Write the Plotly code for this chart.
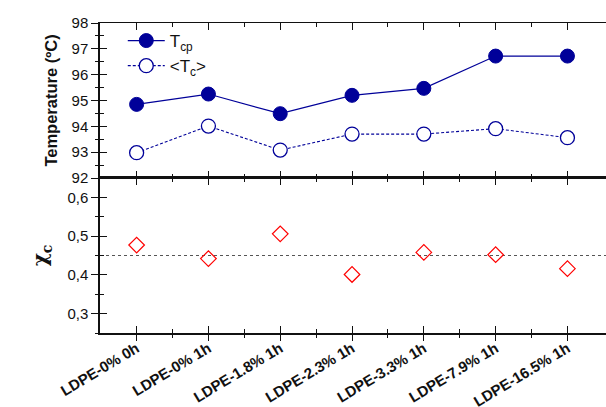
import plotly.graph_objects as go

categories = ["LDPE-0% 0h", "LDPE-0% 1h", "LDPE-1.8% 1h", "LDPE-2.3% 1h",
              "LDPE-3.3% 1h", "LDPE-7.9% 1h", "LDPE-16.5% 1h"]
t_cp = [94.85, 95.25, 94.49, 95.2, 95.47, 96.72, 96.72]
t_c = [92.98, 94.01, 93.08, 93.7, 93.7, 93.91, 93.56]
chi_c = [0.477, 0.442, 0.506, 0.401, 0.458, 0.452, 0.416]
chi_mean = 0.45

temp_ticks = [92, 93, 94, 95, 96, 97, 98]
temp_minor = [92.5, 93.5, 94.5, 95.5, 96.5, 97.5]
chi_ticks = [0.3, 0.4, 0.5, 0.6]
chi_minor = [0.25, 0.35, 0.45, 0.55]

xs = list(range(len(categories)))
x_minor = [i + 0.5 for i in xs[:-1]]
xr = [-0.51, 6.537]

NAVY = "#000099"
FONT = "Liberation Sans, Arial, sans-serif"
BLK = "#111111"

fig = go.Figure()
fig.add_trace(go.Scatter(
    x=xs, y=t_cp, xaxis="x", yaxis="y", mode="lines+markers",
    name="T<sub>cp</sub>",
    line=dict(color=NAVY, width=1.2),
    marker=dict(symbol="circle", size=14, color=NAVY, line=dict(color=NAVY, width=1))))
fig.add_trace(go.Scatter(
    x=xs, y=t_c, xaxis="x", yaxis="y", mode="lines+markers",
    name="&lt;T<sub>c</sub>&gt;",
    line=dict(color=NAVY, width=1.1, dash="3px,2px"),
    marker=dict(symbol="circle", size=14, color="white", line=dict(color=NAVY, width=1.3))))
fig.add_trace(go.Scatter(
    x=xs, y=chi_c, xaxis="x2", yaxis="y2", mode="markers", showlegend=False,
    marker=dict(symbol="diamond-open", size=12, color="#FF0000", line=dict(color="#FF0000", width=1.2))))

# invisible copies so that the overlay tick axes get drawn
ghost = dict(mode="markers", showlegend=False, hoverinfo="skip", marker=dict(opacity=0, size=1))
fig.add_trace(go.Scatter(x=xs, y=chi_c, xaxis="x3", yaxis="y2", **ghost))
fig.add_trace(go.Scatter(x=xs, y=t_cp, xaxis="x", yaxis="y3", **ghost))
fig.add_trace(go.Scatter(x=xs, y=chi_c, xaxis="x2", yaxis="y4", **ghost))

fig.add_shape(type="line", xref="x2 domain", yref="y2", x0=0, x1=1, y0=chi_mean, y1=chi_mean,
              line=dict(color="#555555", width=1.2, dash="dot"), layer="below")

common_tick = dict(tickcolor=BLK, tickwidth=1.3, linecolor=BLK, showgrid=False, zeroline=False,
                   automargin=False)

fig.update_layout(
    width=606, height=407, autosize=False,
    margin=dict(l=100, r=0, t=23, b=74),
    plot_bgcolor="white", paper_bgcolor="white",
    separators=", ",
    font=dict(family=FONT, size=15, color=BLK),
    xaxis=dict(domain=[0, 1], anchor="y", range=xr, tickmode="array", tickvals=xs,
               showticklabels=False, ticks="inside", ticklen=7, mirror="ticks",
               showline=True, linewidth=1.2,
               minor=dict(tickmode="array", tickvals=x_minor, ticks="inside", ticklen=4,
                          tickcolor=BLK, tickwidth=1.2),
               **common_tick),
    xaxis2=dict(domain=[0, 1], anchor="y2", range=xr, tickmode="array", tickvals=xs,
                showticklabels=False, ticks="inside", ticklen=7, mirror="ticks",
                showline=True, linewidth=1.6,
                minor=dict(tickmode="array", tickvals=x_minor, ticks="inside", ticklen=4,
                           tickcolor=BLK, tickwidth=1.2),
                **common_tick),
    xaxis3=dict(overlaying="x2", anchor="y2", side="bottom", range=xr, tickmode="array",
                tickvals=xs, ticktext=categories, tickangle=-31, ticklabelstandoff=-7,
                tickfont=dict(family=FONT, size=15, color=BLK, weight="bold"),
                ticks="outside", ticklen=7, showline=False,
                minor=dict(tickmode="array", tickvals=x_minor, ticks="outside", ticklen=4,
                           tickcolor=BLK, tickwidth=1.2),
                **common_tick),
    yaxis=dict(domain=[0.5, 1], anchor="x", range=[92, 98], tickmode="array",
               tickvals=temp_ticks, ticks="outside", ticklen=7, showline=True, linewidth=1.5,
               tickfont=dict(family=FONT, size=15, color=BLK),
               minor=dict(tickmode="array", tickvals=temp_minor, ticks="outside", ticklen=3.5,
                          tickcolor=BLK, tickwidth=1.2),
               title=dict(text="<b>Temperature (ºC)</b>", font=dict(family=FONT, size=16.5, color=BLK),
                          standoff=10),
               **common_tick),
    yaxis3=dict(overlaying="y", anchor="x", side="left", range=[92, 98], tickmode="array",
                tickvals=temp_ticks, ticks="inside", ticklen=7, showticklabels=False, showline=False,
                minor=dict(tickmode="array", tickvals=temp_minor, ticks="inside", ticklen=3.5,
                           tickcolor=BLK, tickwidth=1.2),
                **common_tick),
    yaxis2=dict(domain=[0, 0.5], anchor="x2", range=[0.25, 0.65], tickmode="array",
                tickvals=chi_ticks, ticks="outside", ticklen=7, showline=True, linewidth=1.5,
                tickfont=dict(family=FONT, size=15, color=BLK), tickformat=".1f",
                minor=dict(tickmode="array", tickvals=chi_minor, ticks="outside", ticklen=3.5,
                           tickcolor=BLK, tickwidth=1.2),
                title=dict(text="<b>χ<sub>c</sub></b>", font=dict(family="DejaVu Serif", size=20, color=BLK),
                           standoff=14),
                **common_tick),
    yaxis4=dict(overlaying="y2", anchor="x2", side="left", range=[0.25, 0.65], tickmode="array",
                tickvals=chi_ticks, ticks="inside", ticklen=7, showticklabels=False, showline=False,
                minor=dict(tickmode="array", tickvals=chi_minor, ticks="inside", ticklen=3.5,
                           tickcolor=BLK, tickwidth=1.2),
                **common_tick),
    legend=dict(x=0.045, y=1.0, xanchor="left", yanchor="top", bgcolor="rgba(0,0,0,0)",
                font=dict(family=FONT, size=17, color=BLK), itemwidth=37, tracegroupgap=0),
    showlegend=True,
)

fig.add_annotation(text="20", xref="paper", yref="paper", x=-0.182, y=-0.2226,
                   xanchor="left", yanchor="top", showarrow=False,
                   font=dict(family=FONT, size=13, color="#333333"))

fig.write_html("out.html")
